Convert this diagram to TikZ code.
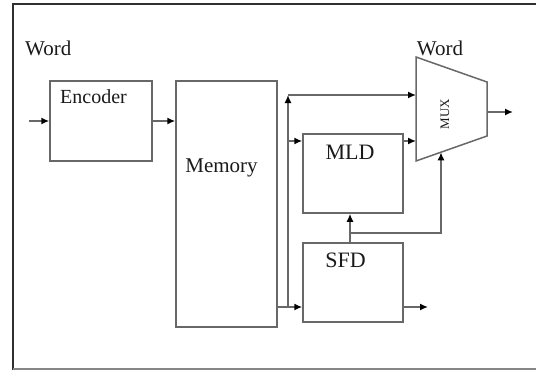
\documentclass[tikz,border=0pt]{standalone}
\usepackage{fontspec}
\setmainfont{Liberation Serif}
\usetikzlibrary{arrows.meta}
\definecolor{linegray}{HTML}{686868}
\definecolor{framegray}{HTML}{303030}
\definecolor{txt}{HTML}{1A1A1A}
\begin{document}
\begin{tikzpicture}[x=1pt,y=-1pt,
  blk/.style={draw=linegray,line width=1.5pt,minimum width=100pt,inner sep=0pt},
  wire/.style={draw=linegray,line width=1.5pt},
  arr/.style={wire,-{Latex[length=8pt,width=7pt,color=black]}},
  lbl/.style={text=txt,inner sep=0pt,font=\fontsize{21}{24}\selectfont},
]
\useasboundingbox (0,0) rectangle (536,370);
% frame
\draw[framegray,line width=2pt] (536,4) -- (13,4) -- (13,370);
\draw[linegray!80,line width=1.4pt] (13,369) -- (536,369);

% blocks
\node[blk,minimum width=102pt,minimum height=80pt] (enc) at (101,121) {};
\node[blk,minimum width=101pt,minimum height=246pt] (mem) at (226.5,204) {};
\node[blk,minimum height=79pt] (mld) at (353,173.5) {};
\node[blk,minimum height=79pt] (sfd) at (353,282.5) {};
\draw[wire,line join=miter] (416,57) coordinate (muxtl) -- (487,82) coordinate (muxtr)
  -- (487,136) coordinate (muxbr) -- (416,161) coordinate (muxbl) -- cycle;

% labels
\node[lbl,anchor=west] (wl) at (25,48) {Word};
\node[lbl,anchor=west,font=\fontsize{20}{24}\selectfont] (el) at (60,97) {Encoder};
\node[lbl] (ml) at (221.5,168) {Memory};
\node[lbl,font=\fontsize{22}{24}\selectfont] (mldl) at (350,152) {MLD};
\node[lbl,font=\fontsize{22}{24}\selectfont] (sfdl) at (345.5,260.5) {SFD};
\node[lbl,font=\fontsize{13}{14}\selectfont,rotate=90] (muxl) at (445,114) {MUX};
\node[lbl] (wr) at (440,48) {Word};

% connectors
\coordinate (in) at (29,121);
\draw[arr] (in) -- (enc.west);
\draw[arr] (enc.east) -- (enc.east -| mem.west);

\coordinate (mo) at (mem.east |- 0,307);
\coordinate (bb) at (288,307);
\coordinate (bt) at (288,95);
\draw[arr] (mo) -- (sfd.west |- mo);
\draw[arr] (bb) -- (bt);
\draw[arr] (bt) -- (muxtl |- bt);
\coordinate (bm) at (288,141);
\draw[arr] (bm) -- (mld.west |- bm);
\draw[arr] (mld.east |- bm) -- (muxtl |- bm);
\coordinate (so) at (428,307);
\draw[arr] (sfd.east |- so) -- (so);
\coordinate (jn) at (350,233);
\draw[arr] (sfd.north -| jn) -- (mld.south -| jn);
\coordinate (jr) at (441,233);
\coordinate (mb) at (441,152.3);
\draw[arr] (jn) -- (jr) -- (mb);
\coordinate (mo2) at (513,112);
\draw[arr] (muxtr |- mo2) -- (mo2);
\end{tikzpicture}
\end{document}
